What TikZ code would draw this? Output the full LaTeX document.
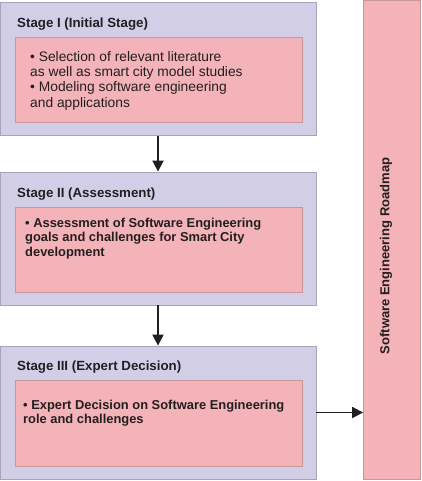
\documentclass[tikz,border=0pt]{standalone}
\usepackage{fontspec}
\setmainfont{Liberation Sans}
\usetikzlibrary{arrows.meta}
\definecolor{stagefill}{HTML}{D3CEE8}
\definecolor{stageline}{HTML}{A8A3BD}
\definecolor{boxfill}{HTML}{F4B3B8}
\definecolor{boxline}{HTML}{C8979C}
\definecolor{arrowcol}{HTML}{231F20}
\begin{document}
\begin{tikzpicture}[x=1pt,y=-1pt]
\tikzstyle{stage}=[rectangle, draw=stageline, fill=stagefill, line width=0.8pt,
                        minimum width=316pt, minimum height=133pt, inner sep=0pt]
\tikzstyle{task}=[rectangle, draw=boxline, fill=boxfill, line width=0.8pt,
                        minimum width=287pt, minimum height=85pt, inner sep=0pt]
\tikzstyle{ttl}=[anchor=base west, inner sep=0pt, text=arrowcol, font=\fontsize{13.3}{15}\selectfont\bfseries]
\tikzstyle{txt}=[anchor=north west, inner sep=0pt, align=left, text=arrowcol, font=\fontsize{13.8}{15.3}\selectfont]
\tikzstyle{btxt}=[txt, font=\fontsize{12.9}{14.3}\selectfont\bfseries]
\tikzstyle{arr}=[-{Triangle[length=11pt,width=11pt]}, line width=1.8pt, draw=arrowcol]
\useasboundingbox (0,0) rectangle (421,481);
	\node[stage] (S1) at (158,69){};
	\node[stage] (S2) at (158,238.5){};
	\node[stage] (S3) at (158,412.5){};
	\node[task] (T1) at (158.5,79.5){};
	\node[task] (T2) at (158.5,249.5){};
	\node[task, minimum height=86pt] (T3) at (158.5,423){};
	\node[rectangle, draw=boxline, fill=boxfill, line width=0.8pt, inner sep=0pt,
	      minimum width=57pt, minimum height=479pt] (R) at (392,240.25){};
	\node[ttl] (L1) at (17,28){Stage I (Initial Stage)};
	\node[ttl] (L2) at (17,197){Stage II (Assessment)};
	\node[ttl] (L3) at (17,370){Stage III (Expert Decision)};
	\node[txt] (X1) at (30,51){\textbullet\ Selection of relevant literature\\
	  as well as smart city model studies\\
	  \textbullet\ Modeling software engineering\\
	  and applications};
	\node[btxt] (X2) at (25,218){\textbullet\ Assessment of Software Engineering\\
	  goals and challenges for Smart City\\
	  development};
	\node[btxt] (X3) at (23,400){\textbullet\ Expert Decision on Software Engineering\\
	  role and challenges};
	\node[rotate=90, inner sep=0pt, text=arrowcol, font=\fontsize{13}{15}\selectfont\bfseries] (RL) at (386,256){Software Engineering Roadmap};
\draw[arr] (S1)--(S2);
\draw[arr] (S2)--(S3);
\draw[arr] (S3.east)--(S3.east -| R.west);
\end{tikzpicture}
\end{document}
